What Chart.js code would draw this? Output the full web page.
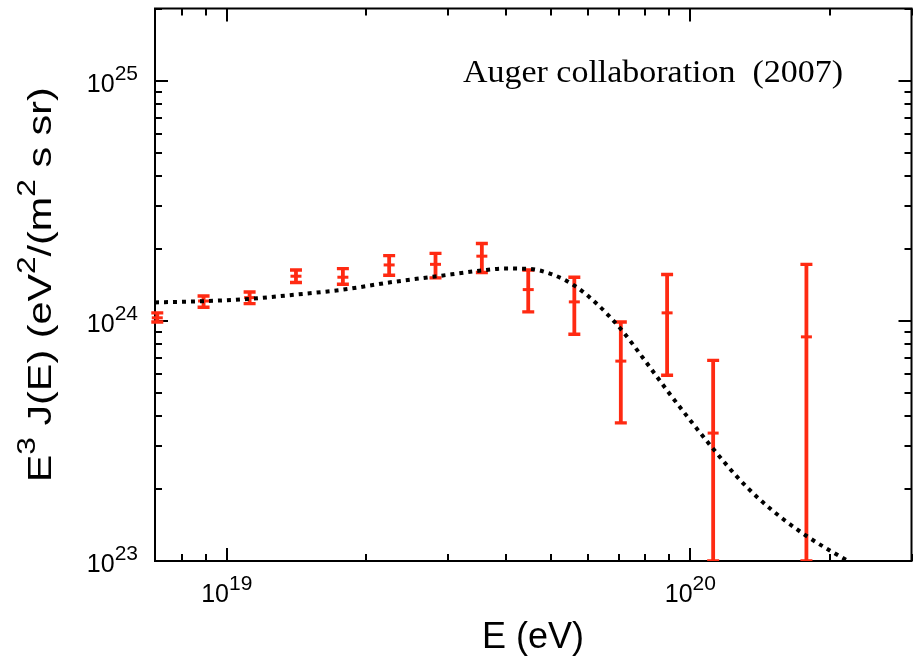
<!DOCTYPE html>
<html>
<head>
<meta charset="utf-8">
<script src="https://cdn.jsdelivr.net/npm/chart.js@4.4.1/dist/chart.umd.min.js"></script>
<style>
  html, body { margin: 0; padding: 0; background: #fff; }
</style>
</head>
<body>
<canvas id="spectrum" width="920" height="660"></canvas>
<script>
// Auger 2007 points: energy (eV) and E^3 J(E) (eV^2 m^-2 s^-1 sr^-1), with error bar ends
const energies = [7.08e18, 8.91e18, 1.12e19, 1.41e19, 1.78e19, 2.24e19, 2.82e19, 3.55e19, 4.47e19, 5.62e19, 7.08e19, 8.91e19, 1.12e20, 1.78e20];
const flux     = [1.03e24, 1.21e24, 1.25e24, 1.535e24, 1.52e24, 1.71e24, 1.72e24, 1.86e24, 1.35e24, 1.20e24, 6.8e23, 1.08e24, 3.41e23, 8.58e23];
const fluxHigh = [1.08e24, 1.27e24, 1.32e24, 1.63e24, 1.65e24, 1.87e24, 1.91e24, 2.10e24, 1.63e24, 1.52e24, 9.9e23, 1.56e24, 6.85e23, 1.72e24];
const fluxLow  = [0.99e24, 1.14e24, 1.18e24, 1.445e24, 1.42e24, 1.55e24, 1.51e24, 1.59e24, 1.09e24, 8.8e23, 3.76e23, 5.94e23, 1e23, 1e23];

// dotted model curve
const modelE    = [7.0e18, 8.91e18, 1.122e19, 1.413e19, 1.778e19, 2.239e19, 2.818e19, 3.548e19, 3.981e19, 4.467e19, 5.012e19, 5.623e19, 6.31e19, 7.079e19, 7.943e19, 8.913e19, 1.0e20, 1.122e20, 1.259e20, 1.413e20, 1.585e20, 1.778e20, 1.995e20, 2.239e20, 2.512e20];
const modelFlux = [1.194e24, 1.208e24, 1.236e24, 1.288e24, 1.349e24, 1.445e24, 1.531e24, 1.622e24, 1.652e24, 1.648e24, 1.567e24, 1.403e24, 1.169e24, 9.25e23, 6.92e23, 5.13e23, 3.85e23, 2.92e23, 2.25e23, 1.80e23, 1.496e23, 1.274e23, 1.109e23, 9.77e22, 8.71e22];

// axis decades that get a "10^n" label
const xLabelExps = [19, 20];
const yLabelExps = [23, 24, 25];

const red = '#ff2a12';
const sans = '"Liberation Sans", Arial, Helvetica, sans-serif';
const serif = '"Liberation Serif", "Times New Roman", serif';

// draws "10" with a raised exponent, anchored at (x, y baseline)
const drawPow = (ctx, exp, x, y, align) => {
    const baseFont = '25px ' + sans;
    const supFont = '21px ' + sans;
    ctx.font = baseFont;
    const wBase = ctx.measureText('10').width;
    ctx.font = supFont;
    const wExp = ctx.measureText(String(exp)).width;
    let left = x;
    if (align === 'center') left = x - (wBase + wExp) / 2;
    if (align === 'right') left = x - wBase - wExp;
    ctx.textAlign = 'left';
    ctx.textBaseline = 'alphabetic';
    ctx.font = baseFont;
    ctx.fillText('10', left, y);
    ctx.font = supFont;
    ctx.fillText(String(exp), left + wBase, y - 12);
};

// text squeezed or stretched along its direction to a given length
const drawFitted = (ctx, parts, length, supRaise) => {
    let total = 0;
    parts.forEach(p => {
        ctx.font = p.font;
        total += ctx.measureText(p.text).width;
    });
    ctx.scale(length / total, 1);
    let cx = -total / 2;
    parts.forEach(p => {
        ctx.font = p.font;
        ctx.fillText(p.text, cx, p.sup ? -supRaise : 0);
        cx += ctx.measureText(p.text).width;
    });
};

const axesBox = {
    id: 'axesBox',
    beforeDatasetsDraw(chart) {
        const { ctx, chartArea } = chart;
        const { left, right, top, bottom } = chartArea;
        const xs = chart.scales.x, ys = chart.scales.y;
        ctx.save();
        ctx.strokeStyle = '#000';
        ctx.lineWidth = 2;
        ctx.strokeRect(left, top, right - left, bottom - top);
        ctx.beginPath();
        for (let k = 18; k <= 20; k++) {
            for (let m = 1; m <= 9; m++) {
                const v = m * Math.pow(10, k);
                if (v < xs.min || v > xs.max) continue;
                const px = Math.round(xs.getPixelForValue(v));
                const len = m === 1 ? 13 : 7;
                ctx.moveTo(px, bottom); ctx.lineTo(px, bottom - len);
                ctx.moveTo(px, top); ctx.lineTo(px, top + len);
            }
        }
        for (let k = 23; k <= 25; k++) {
            for (let m = 1; m <= 9; m++) {
                const v = m * Math.pow(10, k);
                if (v < ys.min || v > ys.max) continue;
                const py = Math.round(ys.getPixelForValue(v));
                const len = m === 1 ? 13 : 7;
                ctx.moveTo(left, py); ctx.lineTo(left + len, py);
                ctx.moveTo(right, py); ctx.lineTo(right - len, py);
            }
        }
        ctx.stroke();

        // error bars, cut off at the bottom axis
        ctx.beginPath();
        ctx.rect(0, top - 4, chart.width, bottom - top + 4);
        ctx.clip();
        ctx.strokeStyle = red;
        energies.forEach((e, i) => {
            const px = xs.getPixelForValue(e);
            const yTop = ys.getPixelForValue(fluxHigh[i]);
            const yBot = Math.min(ys.getPixelForValue(fluxLow[i]), bottom);
            ctx.lineWidth = 3.8;
            ctx.beginPath();
            ctx.moveTo(px, yTop);
            ctx.lineTo(px, yBot);
            ctx.stroke();
            ctx.lineWidth = 3.4;
            ctx.beginPath();
            ctx.moveTo(px - 6, yTop); ctx.lineTo(px + 6, yTop);
            ctx.moveTo(px - 6, yBot); ctx.lineTo(px + 6, yBot);
            ctx.stroke();
        });
        ctx.restore();
    },
    afterDraw(chart) {
        const { ctx, chartArea } = chart;
        const { left, top, bottom } = chartArea;
        const xs = chart.scales.x, ys = chart.scales.y;
        ctx.save();
        ctx.fillStyle = '#000';

        xLabelExps.forEach(n => {
            drawPow(ctx, n, xs.getPixelForValue(Math.pow(10, n)), bottom + 41, 'center');
        });
        yLabelExps.forEach(n => {
            drawPow(ctx, n, left - 17, ys.getPixelForValue(Math.pow(10, n)) + 11, 'right');
        });

        ctx.font = '36px ' + sans;
        ctx.textAlign = 'center';
        ctx.fillText('E (eV)', 533, 648);

        ctx.textAlign = 'left';
        const main = '34px ' + sans, sup = '26px ' + sans;
        ctx.translate(51, (top + bottom) / 2);
        ctx.rotate(-Math.PI / 2);
        drawFitted(ctx, [
            { text: 'E', font: main }, { text: '3', font: sup, sup: true },
            { text: ' J(E) (eV', font: main }, { text: '2', font: sup, sup: true },
            { text: '/(m', font: main }, { text: '2', font: sup, sup: true },
            { text: ' s sr)', font: main }
        ], 395, 16);
        ctx.setTransform(1, 0, 0, 1, 0, 0);

        ctx.translate(653, 82);
        drawFitted(ctx, [{ text: 'Auger collaboration  (2007)', font: '32px ' + serif }], 380, 0);
        ctx.restore();
    }
};

new Chart(document.getElementById('spectrum'), {
    data: {
        datasets: [
            {
                type: 'line',
                data: modelE.map((e, i) => ({ x: e, y: modelFlux[i] })),
                borderColor: '#000',
                borderWidth: 4,
                borderDash: [4, 5],
                borderCapStyle: 'butt',
                pointRadius: 0,
                cubicInterpolationMode: 'monotone',
                fill: false,
                clip: 0
            },
            {
                type: 'scatter',
                data: energies.map((e, i) => ({ x: e, y: flux[i] })),
                pointStyle: 'line',
                pointRadius: 5.5,
                borderColor: red,
                borderWidth: 3,
                clip: false
            }
        ]
    },
    options: {
        responsive: false,
        animation: false,
        devicePixelRatio: 1,
        layout: { padding: { left: 155, right: 8, top: 8, bottom: 99 } },
        scales: {
            x: { type: 'logarithmic', min: 7e18, max: 3e20, display: false },
            y: { type: 'logarithmic', min: 1e23, max: 2e25, display: false }
        },
        plugins: { legend: { display: false }, tooltip: { enabled: false } },
        events: []
    },
    plugins: [axesBox]
});
</script>
</body>
</html>
